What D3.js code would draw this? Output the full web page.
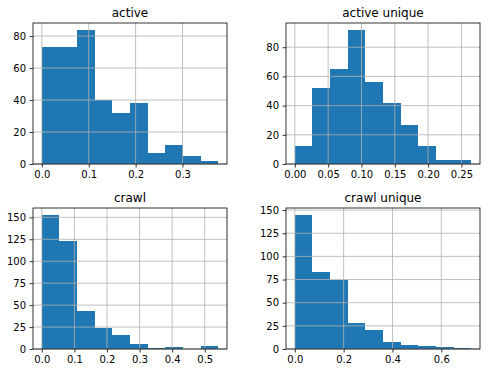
<!DOCTYPE html>
<html>
<head>
<meta charset="utf-8">
<script src="https://cdn.jsdelivr.net/npm/d3@7"></script>
<style>
  html, body { margin: 0; padding: 0; background: #fff; }
  svg { display: block; font-family: "DejaVu Sans", sans-serif; }
</style>
</head>
<body>
<svg id="chart" width="490" height="373"></svg>
<script>
// ---- data ----
const titles = ["active", "active unique", "crawl", "crawl unique"];
const activeCounts       = [73, 73, 84, 40, 32, 38, 7, 12, 5, 2];
const activeUniqueCounts = [12, 52, 65, 92, 56, 42, 27, 12, 3, 3];
const crawlCounts        = [153, 123, 43, 24, 16, 6, 1, 2, 0, 3];
const crawlUniqueCounts  = [145, 83, 75, 28, 20, 8, 4, 3, 2, 1];
const activeRange       = [0, 0.376];
const activeUniqueRange = [0, 0.2646];
const crawlRange        = [0, 0.5413];
const crawlUniqueRange  = [0, 0.7223];
const activeXTicks       = [0, 0.1, 0.2, 0.3];
const activeUniqueXTicks = [0, 0.05, 0.10, 0.15, 0.20, 0.25];
const crawlXTicks        = [0, 0.1, 0.2, 0.3, 0.4, 0.5];
const crawlUniqueXTicks  = [0, 0.2, 0.4, 0.6];
const activeYTicks       = [0, 20, 40, 60, 80];
const activeUniqueYTicks = [0, 20, 40, 60, 80];
const crawlYTicks        = [0, 25, 50, 75, 100, 125, 150];
const crawlUniqueYTicks  = [0, 25, 50, 75, 100, 125, 150];

const panels = [
  {title: titles[0], counts: activeCounts, range: activeRange, xt: activeXTicks, yt: activeYTicks, fmt: ".1f"},
  {title: titles[1], counts: activeUniqueCounts, range: activeUniqueRange, xt: activeUniqueXTicks, yt: activeUniqueYTicks, fmt: ".2f"},
  {title: titles[2], counts: crawlCounts, range: crawlRange, xt: crawlXTicks, yt: crawlYTicks, fmt: ".1f"},
  {title: titles[3], counts: crawlUniqueCounts, range: crawlUniqueRange, xt: crawlUniqueXTicks, yt: crawlUniqueYTicks, fmt: ".1f"}
];

// ---- layout ----
const boxes = [
  {x0: 33, y0: 23, x1: 227, y1: 164},
  {x0: 286, y0: 23, x1: 480, y1: 164},
  {x0: 33, y0: 208, x1: 227, y1: 349},
  {x0: 286, y0: 208, x1: 480, y1: 349}
];

const svg = d3.select("#chart");
const barColor = "#1f77b4";

panels.forEach((p, i) => {
  const b = boxes[i];
  const n = p.counts.length;
  const [lo, hi] = p.range;
  const span = hi - lo;
  const x = d3.scaleLinear().domain([lo - 0.05 * span, hi + 0.05 * span]).range([b.x0, b.x1]);
  const y = d3.scaleLinear().domain([0, d3.max(p.counts) * 1.05]).range([b.y1, b.y0]);
  const w = span / n;
  const bins = p.counts.map((c, k) => ({x0: lo + k * w, x1: lo + (k + 1) * w, c}));

  const g = svg.append("g");

  // bars
  g.selectAll("rect.bar").data(bins).enter().append("rect")
    .attr("class", "bar")
    .attr("x", d => x(d.x0))
    .attr("width", d => x(d.x1) - x(d.x0))
    .attr("y", d => y(d.c))
    .attr("height", d => y(0) - y(d.c))
    .attr("fill", barColor)
    .attr("shape-rendering", "crispEdges");

  // grid (drawn above bars, like matplotlib)
  const grid = g.append("g").attr("stroke", "#b0b0b0").attr("stroke-width", 0.8);
  p.xt.forEach(t => {
    grid.append("line").attr("x1", x(t)).attr("x2", x(t)).attr("y1", b.y0).attr("y2", b.y1);
  });
  p.yt.forEach(t => {
    grid.append("line").attr("x1", b.x0).attr("x2", b.x1).attr("y1", y(t)).attr("y2", y(t));
  });

  // axes
  const xAxis = d3.axisBottom(x).tickValues(p.xt).tickFormat(d3.format(p.fmt)).tickSize(3.5).tickPadding(3.5);
  const yAxis = d3.axisLeft(y).tickValues(p.yt).tickFormat(d3.format("d")).tickSize(3.5).tickPadding(3.5);
  const gx = g.append("g").attr("transform", `translate(0,${b.y1})`).call(xAxis);
  const gy = g.append("g").attr("transform", `translate(${b.x0},0)`).call(yAxis);
  [gx, gy].forEach(a => {
    a.select(".domain").remove();
    a.selectAll(".tick line").attr("stroke", "#000").attr("stroke-width", 0.8);
    a.selectAll(".tick text").attr("fill", "#000").style("font-size", "10px").style("font-family", "DejaVu Sans, sans-serif");
  });

  // spines
  g.append("rect")
    .attr("x", b.x0).attr("y", b.y0)
    .attr("width", b.x1 - b.x0).attr("height", b.y1 - b.y0)
    .attr("fill", "none").attr("stroke", "#000").attr("stroke-width", 0.8);

  // title
  g.append("text")
    .attr("x", (b.x0 + b.x1) / 2)
    .attr("y", b.y0 - 6)
    .attr("text-anchor", "middle")
    .style("font-size", "12px")
    .attr("fill", "#000")
    .text(p.title);
});
</script>
</body>
</html>
